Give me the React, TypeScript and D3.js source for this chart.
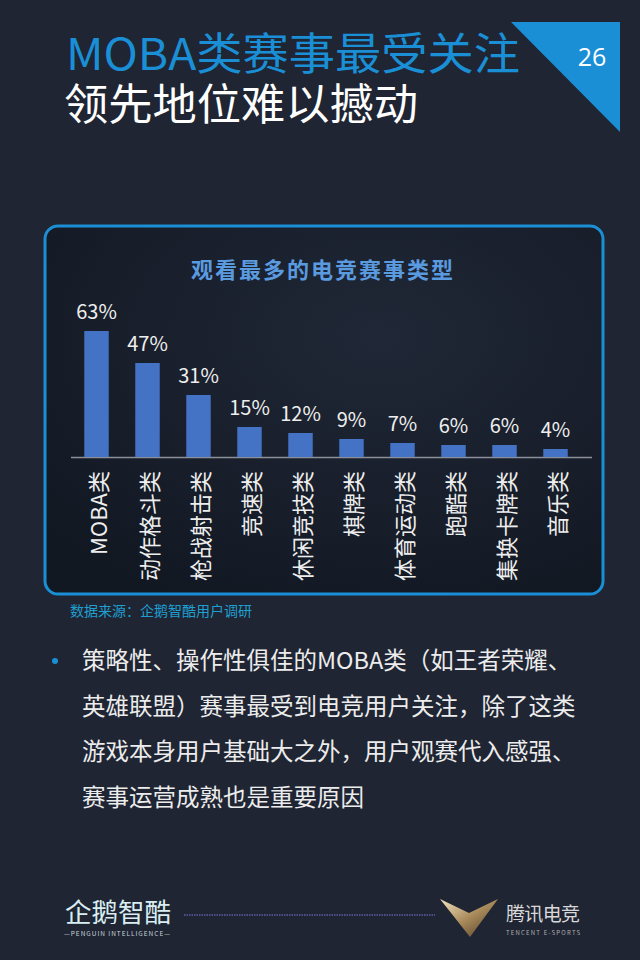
import React from "react";
import * as d3 from "d3";

const categories = ["MOBA类", "动作格斗类", "枪战射击类", "竞速类", "休闲竞技类", "棋牌类", "体育运动类", "跑酷类", "集换卡牌类", "音乐类"];
const values = [63, 47, 31, 15, 12, 9, 7, 6, 6, 4];
const bodyLines = [
  "策略性、操作性俱佳的MOBA类（如王者荣耀、",
  "英雄联盟）赛事最受到电竞用户关注，除了这类",
  "游戏本身用户基础大之外，用户观赛代入感强、",
  "赛事运营成熟也是重要原因",
];

const FONT = "'Noto Sans CJK SC', 'Noto Sans', sans-serif";

export default function App() {
  const x = d3.scaleBand<string>().domain(categories).range([71, 581]).paddingInner(0.52).paddingOuter(0.26);
  const y = d3.scaleLinear().domain([0, 63]).range([457, 331]);
  return (
    <svg width={640} height={960} style={{ position: "absolute", left: 0, top: 0 }} fontFamily={FONT}>
      <defs>
        <radialGradient id="panelG" cx="0.6" cy="0.3" r="0.8">
          <stop offset="0" stopColor="#202736" />
          <stop offset="1" stopColor="#121822" />
        </radialGradient>
        <linearGradient id="vG" x1="0" y1="0" x2="1" y2="1">
          <stop offset="0" stopColor="#f3e4c0" />
          <stop offset="0.5" stopColor="#a8895a" />
          <stop offset="1" stopColor="#4a3a22" />
        </linearGradient>
      </defs>
      <rect width={640} height={960} fill="#1f2533" />
      {/* header */}
      <polygon points="511,22 620,22 620,132" fill="#1a8fd6" />
      <text x={592} y={66} fill="#ffffff" fontSize={25} textAnchor="middle" fontFamily="'Open Sans', sans-serif">26</text>
      <text>
        <tspan x={66} y={70} fill="#1a8fd6" fontSize={44} textLength={454} lengthAdjust="spacingAndGlyphs">MOBA类赛事最受关注</tspan>
        <tspan x={64} y={120} fill="#ffffff" fontSize={43} textLength={354} lengthAdjust="spacingAndGlyphs">领先地位难以撼动</tspan>
      </text>

      {/* panel */}
      <rect x={45} y={226} width={558} height={368} rx={13} fill="url(#panelG)" stroke="#1a8fd6" strokeWidth={3} />
      <text x={322} y={278} fill="#5a9be0" fontSize={22} fontWeight="bold" textAnchor="middle" textLength={262}>观看最多的电竞赛事类型</text>

      <line x1={71} x2={592} y1={457.5} y2={457.5} stroke="#8a8f99" strokeWidth={1.5} />
      {categories.map((c, i) => {
        const bx = x(c)!;
        const bw = x.bandwidth();
        const cx = bx + bw / 2;
        return (
          <g key={c}>
            <rect x={bx} y={y(values[i])} width={bw} height={457 - y(values[i])} fill="#4472c4" />
            <text x={cx} y={y(values[i]) - 12} fill="#eeeeee" fontSize={20} textAnchor="middle">{values[i]}%</text>
            <text transform={`translate(${cx + 10},${471}) rotate(-90)`} fill="#eeeeee" fontSize={22} textAnchor="end">{c}</text>
          </g>
        );
      })}

      <text x={70} y={616} fill="#1f9fd0" fontSize={14}>数据来源：企鹅智酷用户调研</text>

      {/* bullet text */}
      <circle cx={55} cy={661} r={3} fill="#1a8fd6" />
      {bodyLines.map((l, i) => (
        <text key={i} x={82} y={669 + i * 45.5} fill="#ececec" fontSize={23.5}>{l}</text>
      ))}

      {/* footer */}
      <text x={65} y={922} fill="#d9eef2" fontSize={26} textLength={106} lengthAdjust="spacingAndGlyphs">企鹅智酷</text>
      <text x={117} y={936} fill="#c8d4dc" fontSize={6.5} textAnchor="middle" textLength={106}>—PENGUIN INTELLIGENCE—</text>
      <line x1={184} x2={435} y1={915} y2={915} stroke="#5a5fa8" strokeWidth={1.5} strokeDasharray="1.5 1" />
      <polygon points="440,899 469,913 498,899 470,937" fill="url(#vG)" />
      <text x={506} y={921} fill="#d8d8d8" fontSize={19} textLength={74}>腾讯电竞</text>
      <text x={506} y={935} fill="#b0b0b0" fontSize={6} textLength={74}>TENCENT E-SPORTS</text>
    </svg>
  );
}
